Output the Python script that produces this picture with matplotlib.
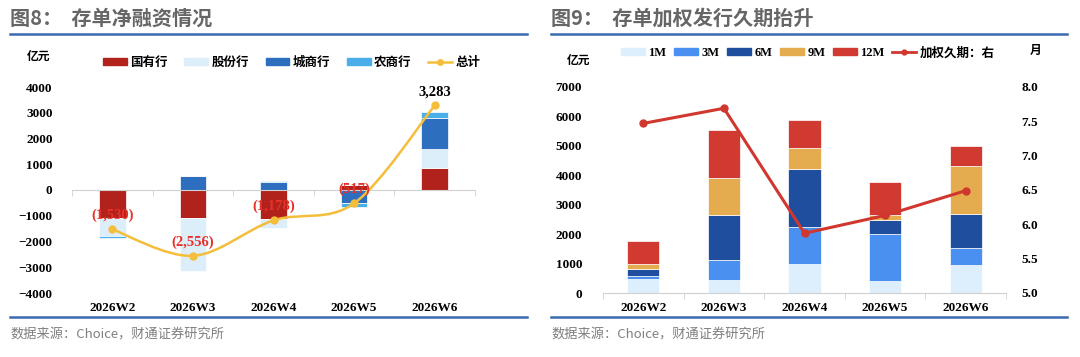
import numpy as np
import matplotlib.pyplot as plt
from matplotlib.patches import Patch, PathPatch
from matplotlib.lines import Line2D
from matplotlib.path import Path
from matplotlib.font_manager import FontProperties

weeks = ['2026W2', '2026W3', '2026W4', '2026W5', '2026W6']

# fig 8: net financing by bank type (亿元)
guoyou = [-1100, -1100, -1140, 180, 840]
gufen = [-690, -2040, -350, 0, 770]
chengshang = [0, 560, 330, -500, 1200]
nongshang = [-60, 0, 30, -160, 220]
total = [-1530, -2556, -1178, -517, 3283]
total_labels = ['(1,530)', '(2,556)', '(1,178)', '(517)', '3,283']

# fig 9: issuance by tenor (亿元) and weighted duration (月)
m1 = [490, 430, 970, 410, 950]
m3 = [90, 680, 1260, 1590, 580]
m6 = [250, 1550, 1970, 490, 1170]
m9 = [160, 1250, 730, 170, 1630]
m12 = [780, 1620, 940, 1120, 660]
duration = [7.47, 7.69, 5.87, 6.13, 6.49]

W, H = 1080, 357
fig = plt.figure(figsize=(W / 100, H / 100), dpi=100)

serif = 'Liberation Serif'
cjk = 'Noto Sans CJK SC'
mixed = [serif, cjk]
tick_fp = FontProperties(family=serif, weight='bold', size=9.5)
leg_fp = FontProperties(family=mixed, weight='bold', size=9)
rule_c = '#3a6ab3'
gray = '#666666'


def px(x, y):
    return x / W, 1 - y / H


def frame(x0, x1, title):
    fig.text(*px(x0, 18), title, family=cjk, weight='bold', size=14.5,
             color=gray, va='center', ha='left')
    for y in (34, 317):
        fig.add_artist(Line2D([x0 / W, x1 / W], [1 - y / H] * 2, color=rule_c, lw=1.8))
    fig.text(*px(x0, 335), '数据来源：Choice，财通证券研究所', family=cjk, size=9.5,
             color='#7f7f7f', va='center', ha='left')


def style_axes(ax):
    for s in ax.spines.values():
        s.set_visible(False)
    ax.set_xlim(-0.5, 4.5)
    ax.set_xticks(range(5))
    ax.set_xticks(np.arange(-0.5, 5, 1), minor=True)
    ax.tick_params(axis='x', which='major', length=0, labelbottom=False)
    ax.tick_params(axis='x', which='minor', length=4, color='#d0d0d0', direction='out')
    ax.tick_params(axis='y', length=0)
    for i, w in enumerate(weeks):
        ax.text(i, -0.075, w, transform=ax.get_xaxis_transform(), ha='center', va='center',
                fontproperties=tick_fp)


def stack(ax, series, colors, width):
    pos = np.zeros(5)
    neg = np.zeros(5)
    x = np.arange(5)
    for vals, c in zip(series, colors):
        v = np.array(vals, dtype=float)
        bottom = np.where(v >= 0, pos, neg)
        ax.bar(x, v, width, bottom=bottom, color=c, edgecolor='white', linewidth=0.5, zorder=2)
        pos += np.where(v >= 0, v, 0)
        neg += np.where(v < 0, v, 0)


def smooth_path(xs, ys):
    pts = np.column_stack([xs, ys]).astype(float)
    ext = np.vstack([pts[0], pts, pts[-1]])
    verts = [pts[0]]
    codes = [Path.MOVETO]
    for i in range(len(pts) - 1):
        p0, p1, p2, p3 = ext[i], ext[i + 1], ext[i + 2], ext[i + 3]
        verts += [p1 + (p2 - p0) / 6, p2 - (p3 - p1) / 6, p2]
        codes += [Path.CURVE4] * 3
    return Path(verts, codes)


# ---------- left chart ----------
frame(10, 527, '图8：  存单净融资情况')
ax1 = fig.add_axes([72 / W, 1 - 293 / H, 403 / W, 206 / H])
style_axes(ax1)
ax1.spines['bottom'].set_visible(True)
ax1.spines['bottom'].set_position(('data', 0))
ax1.spines['bottom'].set_color('#d0d0d0')
ax1.set_ylim(-4000, 4000)
ax1.set_yticks(range(-4000, 4001, 1000))
ax1.tick_params(axis='y', pad=14)
for t in ax1.get_yticklabels():
    t.set_fontproperties(tick_fp)

c_left = ['#b0221b', '#ddeefb', '#2e6ebf', '#4aaee8']
stack(ax1, [guoyou, gufen, chengshang, nongshang], c_left, 0.33)
yel = '#f5be3a'
ax1.add_patch(PathPatch(smooth_path(range(5), total), facecolor='none', edgecolor=yel,
                        lw=1.8, zorder=3))
ax1.plot(range(5), total, 'o', color=yel, ms=5, zorder=4)
for i, (v, lab) in enumerate(zip(total, total_labels)):
    col = 'black' if v > 0 else '#e8312a'
    ax1.annotate(lab, (i, v), xytext=(0, 10), textcoords='offset points', ha='center',
                 va='center', color=col, fontproperties=FontProperties(family=serif,
                 weight='bold', size=10.5), zorder=5)

fig.text(*px(27, 56), '亿元', family=cjk, weight='bold', size=8.5, va='center', ha='left')
h1 = [Patch(color=c) for c in c_left] + [Line2D([], [], color=yel, lw=1.8, marker='o', ms=4)]
fig.legend(h1, ['国有行', '股份行', '城商行', '农商行', '总计'], loc='center left',
           bbox_to_anchor=px(103, 63), ncol=5, frameon=False, prop=leg_fp,
           handlelength=1.9, handleheight=0.45, handletextpad=0.3, columnspacing=1.3,
           borderpad=0, borderaxespad=0)

# ---------- right chart ----------
frame(551, 1067, '图9：  存单加权发行久期抬升')
ax2 = fig.add_axes([603 / W, 1 - 293 / H, 403 / W, 206 / H])
style_axes(ax2)
ax2.spines['bottom'].set_visible(True)
ax2.spines['bottom'].set_color('#d0d0d0')
ax2.set_ylim(0, 7000)
ax2.set_yticks(range(0, 7001, 1000))
ax2.tick_params(axis='y', pad=15)
for t in ax2.get_yticklabels():
    t.set_fontproperties(tick_fp)

c_right = ['#ddeefc', '#4a90f0', '#1f4e9e', '#e5ac4f', '#d03a30']
stack(ax2, [m1, m3, m6, m9, m12], c_right, 0.4)

ax3 = ax2.twinx()
for s in ax3.spines.values():
    s.set_visible(False)
ax3.set_ylim(5.0, 8.0)
ax3.set_yticks(np.arange(5.0, 8.01, 0.5))
ax3.set_yticklabels([f'{v:.1f}' for v in np.arange(5.0, 8.01, 0.5)])
ax3.tick_params(axis='y', length=0, pad=11)
for t in ax3.get_yticklabels():
    t.set_fontproperties(tick_fp)
red = '#d0372e'
ax3.plot(range(5), duration, '-o', color=red, lw=2.2, ms=5, zorder=4)

fig.text(*px(567, 60), '亿元', family=cjk, weight='bold', size=8.5, va='center', ha='left')
fig.text(*px(1030, 50), '月', family=cjk, weight='bold', size=8.5, va='center', ha='left')
h2 = [Patch(color=c) for c in c_right] + [Line2D([], [], color=red, lw=2, marker='o', ms=3.5)]
fig.legend(h2, ['1M', '3M', '6M', '9M', '12M', '加权久期：右'], loc='center left',
           bbox_to_anchor=px(621, 53), ncol=6, frameon=False, prop=leg_fp,
           handlelength=1.9, handleheight=0.45, handletextpad=0.3, columnspacing=0.6,
           borderpad=0, borderaxespad=0)

fig.savefig('out.png', dpi=100, facecolor='white')
